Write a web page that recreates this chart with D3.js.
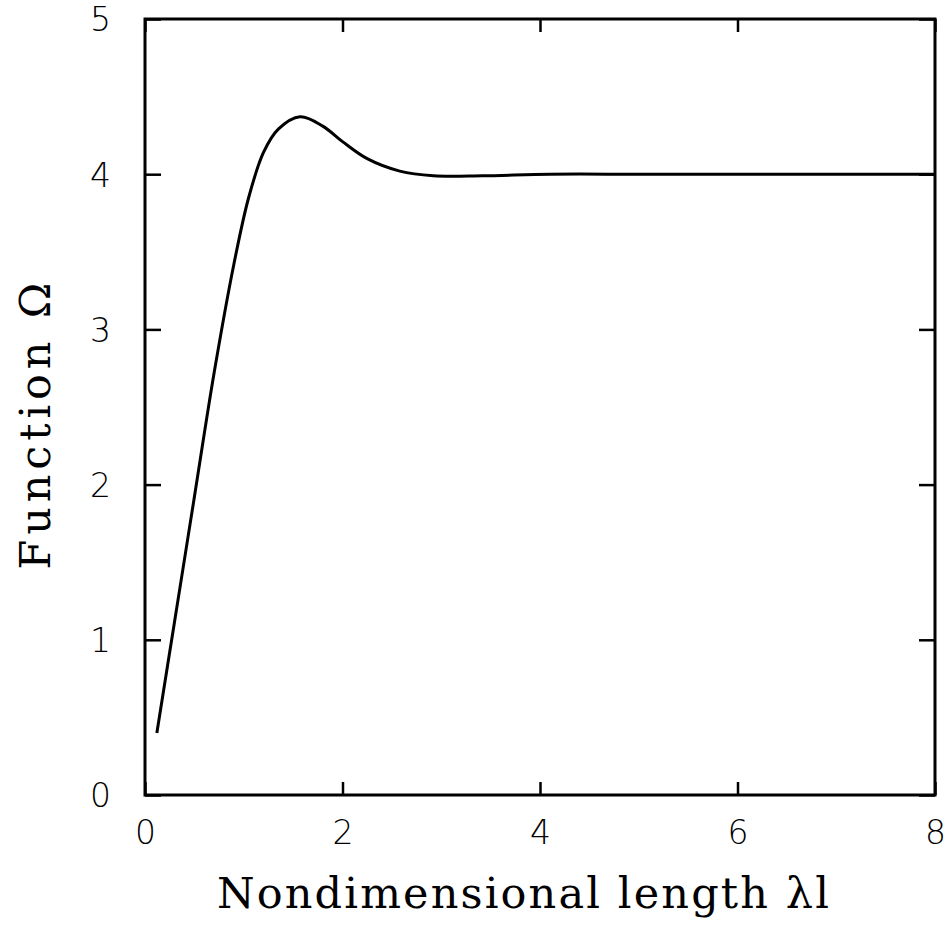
<!DOCTYPE html>
<html>
<head>
<meta charset="utf-8">
<script src="https://cdn.jsdelivr.net/npm/d3@7"></script>
<style>
  body { margin: 0; background: #fff; }
</style>
</head>
<body>
<svg id="drawing_region"></svg>
<script>
// curve: nondimensional length vs function Omega
const lengthValues = [0.12, 0.30, 0.50, 0.70, 0.90, 1.05, 1.20, 1.35, 1.57, 1.80, 2.00, 2.25, 2.58, 2.92, 3.42, 4.10, 5.0, 6.0, 7.0, 8.0];
const omegaValues  = [0.40, 1.12, 1.92, 2.72, 3.42, 3.85, 4.14, 4.29, 4.37, 4.31, 4.21, 4.10, 4.02, 3.99, 3.99, 4.00, 4.00, 4.00, 4.00, 4.00];
const xTicks = [0, 2, 4, 6, 8];
const yTicks = [0, 1, 2, 3, 4, 5];
const xTitle = "Nondimensional length \u03bbl";
const yTitle = "Function \u03a9";

const config = {
    width: 948,
    height: 930,
    margin: {top: 19, right: 13, bottom: 135, left: 145}
};

const svg = d3.select('#drawing_region')
    .attr('width', config.width)
    .attr('height', config.height);

const inner_width = config.width - config.margin.left - config.margin.right;
const inner_height = config.height - config.margin.top - config.margin.bottom;

const chart = svg.append('g')
    .attr('transform', `translate(${config.margin.left}, ${config.margin.top})`);

const xscale = d3.scaleLinear().domain([0, 8]).range([0, inner_width]);
const yscale = d3.scaleLinear().domain([0, 5]).range([inner_height, 0]);

// inward ticks on all four sides, labels only bottom / left
const tickFont = "'DejaVu Sans', 'Liberation Sans', sans-serif";

const xaxis_bottom = chart.append('g')
    .attr('transform', `translate(0, ${inner_height})`)
    .call(d3.axisBottom(xscale).tickValues(xTicks).tickSize(-13).tickPadding(26).tickFormat(d3.format('d')));
const xaxis_top = chart.append('g')
    .call(d3.axisTop(xscale).tickValues(xTicks).tickSize(-13).tickFormat(''));
const yaxis_left = chart.append('g')
    .call(d3.axisLeft(yscale).tickValues(yTicks).tickSize(-16).tickPadding(34).tickFormat(d3.format('d')));
const yaxis_right = chart.append('g')
    .attr('transform', `translate(${inner_width}, 0)`)
    .call(d3.axisRight(yscale).tickValues(yTicks).tickSize(-16).tickFormat(''));

[xaxis_bottom, xaxis_top, yaxis_left, yaxis_right].forEach(g => {
    g.select('.domain').remove();
    g.selectAll('.tick line').attr('stroke', '#000').attr('stroke-width', 2.5);
    g.selectAll('.tick text')
        .attr('fill', '#000')
        .attr('font-family', tickFont)
        .attr('font-weight', 200)
        .attr('font-size', '33px');
});
yaxis_left.selectAll('.tick text').attr('dy', '0.36em');

// frame
chart.append('rect')
    .attr('x', 0).attr('y', 0)
    .attr('width', inner_width).attr('height', inner_height)
    .attr('fill', 'none')
    .attr('stroke', '#000')
    .attr('stroke-width', 3);

// curve
const data = lengthValues.map((x, i) => ({x: x, y: omegaValues[i]}));
const line = d3.line()
    .x(d => xscale(d.x))
    .y(d => yscale(d.y))
    .curve(d3.curveCatmullRom.alpha(0.5));

chart.append('path')
    .attr('d', line(data))
    .attr('fill', 'none')
    .attr('stroke', '#000')
    .attr('stroke-width', 3)
    .attr('stroke-linejoin', 'round');

// axis titles
const titleFont = "'DejaVu Serif', 'Liberation Serif', serif";

svg.append('text')
    .attr('x', 523)
    .attr('y', 908)
    .attr('text-anchor', 'middle')
    .attr('font-family', titleFont)
    .attr('font-size', '43px')
    .attr('textLength', 612)
    .attr('lengthAdjust', 'spacing')
    .attr('fill', '#000')
    .text(xTitle);

svg.append('text')
    .attr('transform', 'translate(50, 426) rotate(-90)')
    .attr('text-anchor', 'middle')
    .attr('font-family', titleFont)
    .attr('font-size', '43px')
    .attr('textLength', 287)
    .attr('lengthAdjust', 'spacing')
    .attr('fill', '#000')
    .text(yTitle);
</script>
</body>
</html>
